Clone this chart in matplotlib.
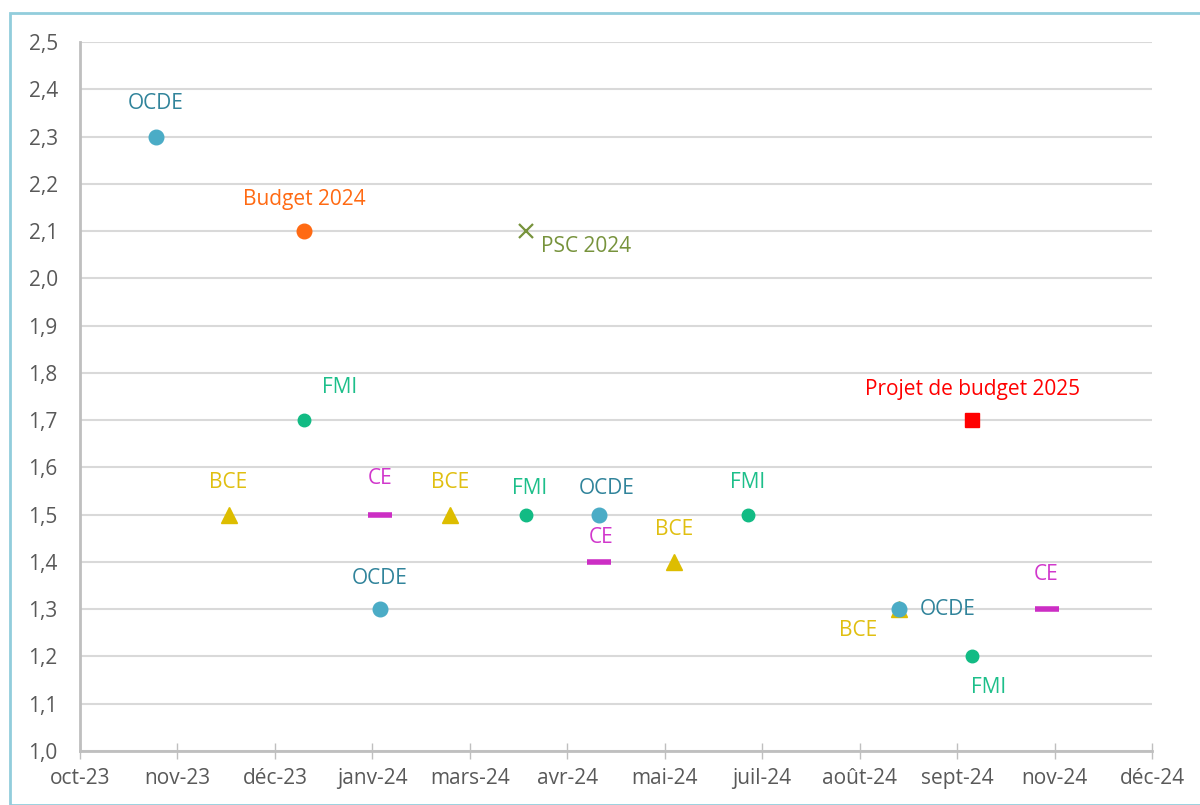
import matplotlib
matplotlib.use("Agg")
import matplotlib.pyplot as plt
import matplotlib.dates as mdates
from matplotlib.patches import Rectangle
import datetime as dt

plt.rcParams['font.family'] = ['Open Sans', 'DejaVu Sans']

# ---- data ----
ocde_dates = ["2023-11-01", "2024-02-01", "2024-05-01", "2024-09-01"]
ocde_values = [2.3, 1.3, 1.5, 1.3]
fmi_dates = ["2024-01-01", "2024-04-01", "2024-07-01", "2024-10-01"]
fmi_values = [1.7, 1.5, 1.5, 1.2]
bce_dates = ["2023-12-01", "2024-03-01", "2024-06-01", "2024-09-01"]
bce_values = [1.5, 1.5, 1.4, 1.3]
ce_dates = ["2024-02-01", "2024-05-01", "2024-11-01"]
ce_values = [1.5, 1.4, 1.3]
budget24_dates = ["2024-01-01"]
budget24_values = [2.1]
psc_dates = ["2024-04-01"]
psc_values = [2.1]
plf25_dates = ["2024-10-01"]
plf25_values = [1.7]

xtick_labels = ["oct-23", "nov-23", "déc-23", "janv-24", "mars-24", "avr-24",
                "mai-24", "juil-24", "août-24", "sept-24", "nov-24", "déc-24"]
yticks = [1.0, 1.1, 1.2, 1.3, 1.4, 1.5, 1.6, 1.7, 1.8, 1.9, 2.0, 2.1, 2.2, 2.3, 2.4, 2.5]

# label offsets in pixels (dx, dy) and alignment for each point
ocde_offs = [(0, 33, 'center'), (0, 31, 'center'), (8, 26, 'center'), (21, 0, 'left')]
fmi_offs = [(35, 33, 'center'), (4, 26, 'center'), (0, 32, 'center'), (17, -31, 'center')]
bce_offs = [(0, 32, 'center'), (0, 32, 'center'), (0, 32, 'center'), (-40, -21, 'center')]
ce_offs = [(0, 36, 'center'), (2, 24, 'center'), (-1, 35, 'center')]

def d(lst):
    return [dt.datetime.strptime(s, "%Y-%m-%d") for s in lst]

fig = plt.figure(figsize=(12, 8.05), dpi=100)
ax = fig.add_axes([80/1200, 1-751/805, (1152-80)/1200, (751-42)/805])

start = dt.datetime(2023, 10, 1)
ticks = [start + dt.timedelta(days=40*i) for i in range(len(xtick_labels))]
ax.set_xlim(mdates.date2num(ticks[0]), mdates.date2num(ticks[-1]))
ax.set_ylim(1.0, 2.5)

c_ocde, c_ocde_t = "#4BACC6", "#31849B"
c_fmi, c_fmi_t = "#12BB84", "#1DBF8A"
c_bce = "#DDBD00"
c_ce = "#CC2EC4"
c_b24 = "#FF6A13"
c_psc = "#77933C"
c_plf = "#FF0000"

ax.plot(d(bce_dates), bce_values, ls='none', marker='^', ms=11, color=c_bce, mec=c_bce, zorder=3)
ax.plot(d(ce_dates), ce_values, ls='none', marker='_', ms=17, mew=4, color=c_ce, zorder=3)
ax.plot(d(fmi_dates), fmi_values, ls='none', marker='o', ms=9, color=c_fmi, mec=c_fmi, zorder=3)
ax.plot(d(ocde_dates), ocde_values, ls='none', marker='o', ms=10.5, color=c_ocde, mec=c_ocde, zorder=4)
ax.plot(d(budget24_dates), budget24_values, ls='none', marker='o', ms=10.5, color=c_b24, mec=c_b24, zorder=3)
ax.plot(d(psc_dates), psc_values, ls='none', marker='x', ms=10, mew=1.6, color=c_psc, zorder=3)
ax.plot(d(plf25_dates), plf25_values, ls='none', marker='s', ms=10, color=c_plf, mec=c_plf, zorder=3)

fs = 15

def labels(dates, vals, name, offs, color):
    for x, y, (dx, dy, ha) in zip(d(dates), vals, offs):
        ax.annotate(name, (x, y), xytext=(dx, dy), textcoords='offset pixels',
                    ha=ha, va='center', fontsize=fs, color=color, zorder=5)

labels(ocde_dates, ocde_values, "OCDE", ocde_offs, c_ocde_t)
labels(fmi_dates, fmi_values, "FMI", fmi_offs, c_fmi_t)
labels(bce_dates, bce_values, "BCE", bce_offs, "#E0BF10")
labels(ce_dates, ce_values, "CE", ce_offs, "#D138CC")
labels(budget24_dates, budget24_values, "Budget 2024", [(0, 32, 'center')], c_b24)
labels(psc_dates, psc_values, "PSC 2024", [(15, -15, 'left')], c_psc)
labels(plf25_dates, plf25_values, "Projet de budget 2025", [(1, 31, 'center')], c_plf)

ax.set_xticks([mdates.date2num(t) for t in ticks])
ax.set_xticklabels(xtick_labels)
ax.set_yticks(yticks)
ax.set_yticklabels([f"{v:.1f}".replace('.', ',') for v in yticks])

ax.grid(axis='y', color='#D9D9D9', lw=1.5)
ax.set_axisbelow(True)
for s in ['top', 'right']:
    ax.spines[s].set_visible(False)
for s in ['left', 'bottom']:
    ax.spines[s].set_color('#BFBFBF')
    ax.spines[s].set_linewidth(2)
ax.tick_params(axis='y', length=0, labelsize=fs, labelcolor='#595959', pad=16)
ax.tick_params(axis='x', direction='inout', length=12, width=1, color='#BFBFBF',
               labelsize=fs, labelcolor='#595959', pad=6)

fig.patches.append(Rectangle((10/1200, 0), 1.2, 1-13/805, transform=fig.transFigure,
                             fill=False, edgecolor='#92CDDC', lw=2, zorder=0))

fig.savefig("out.png", dpi=100)
